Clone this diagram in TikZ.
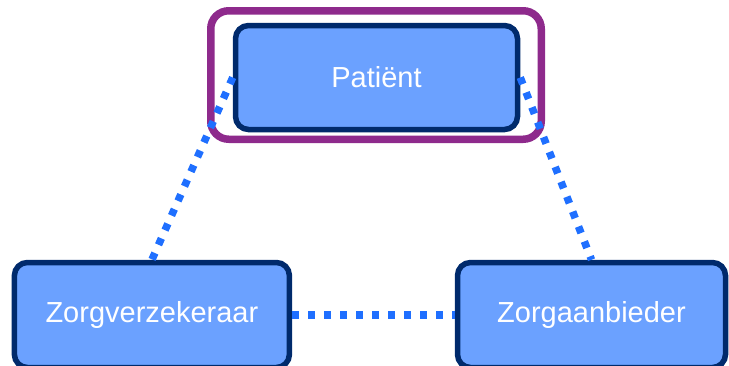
\documentclass[tikz,border=0pt]{standalone}
\usepackage{fontspec}
\setmainfont{Liberation Sans}
\definecolor{boxfill}{HTML}{6BA1FF}
\definecolor{navy}{HTML}{002A6C}
\definecolor{plum}{HTML}{8E2A8C}
\definecolor{linkblue}{HTML}{1F6FFF}

\begin{document}
\begin{tikzpicture}[x=1pt,y=-1pt,
  party/.style={draw=navy,line width=5.5pt,fill=boxfill,rounded corners=13pt,
    minimum height=105pt,text=white,font=\fontsize{29}{34}\selectfont,inner sep=0pt},
  link/.style={linkblue,line width=7.5pt,dash pattern=on 7pt off 9pt}]
  \useasboundingbox (0,0) rectangle (729,365);
  % the three parties
  \node[party,minimum width=282pt,minimum height=104pt] (pat) at (376.5,77.5) {Patiënt};
  \node[party,minimum width=275pt] (zv) at (151.9,315) {Zorgverzekeraar};
  \node[party,minimum width=268pt] (za) at (591.5,315) {Zorgaanbieder};
  % focus on the patient
  \node[draw=plum,line width=7.5pt,rounded corners=18pt,minimum width=330.5pt,
    minimum height=128.5pt] (focus) at (376,75) {};
  % dotted relations
  \draw[link] (pat.west) -- (zv.north);
  \draw[link] (pat.east) -- (za.north);
  \draw[link] (zv.east) -- (za.west);
\end{tikzpicture}
\end{document}
